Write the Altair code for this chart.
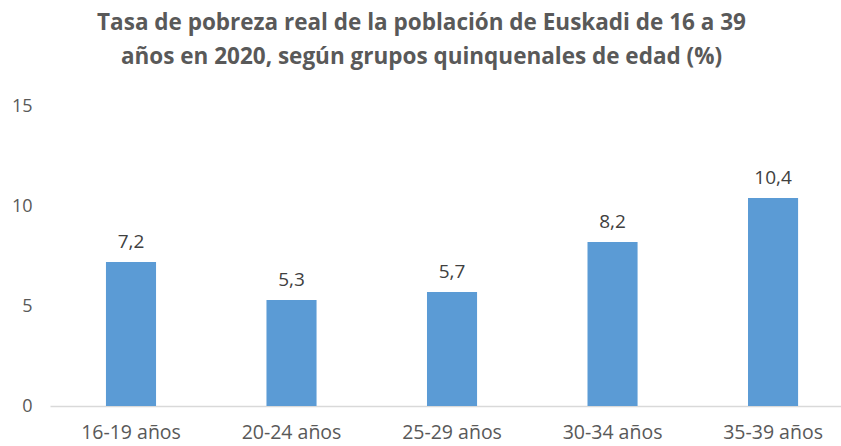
import altair as alt
import pandas as pd

categories = ["16-19 años", "20-24 años", "25-29 años", "30-34 años", "35-39 años"]
values = [7.2, 5.3, 5.7, 8.2, 10.4]
y_ticks = [0, 5, 10, 15]
title_lines = ["Tasa de pobreza real de la población de Euskadi de 16 a 39",
               "años en 2020, según grupos quinquenales de edad (%)"]

df = pd.DataFrame({
    "cat": categories,
    "val": values,
    "lbl": [f"{v:.1f}".replace(".", ",") for v in values],
})

FONT = "Open Sans"
GREY = "#595959"

x = alt.X("cat:N", sort=categories, title=None,
          scale=alt.Scale(paddingInner=0.688, paddingOuter=0.308, align=0.566),
          axis=alt.Axis(labelAngle=0, ticks=False, grid=False, domainColor="#D9D9D9", domainWidth=1.5,
                        labelFont=FONT, labelFontSize=19.5, labelColor=GREY, labelPadding=17))
y = alt.Y("val:Q", title=None,
          scale=alt.Scale(domain=[0, 15], nice=False),
          axis=alt.Axis(values=y_ticks, ticks=False, domain=False, grid=False,
                        labelFont=FONT, labelFontSize=18, labelColor=GREY, labelPadding=18))

base = alt.Chart(df)
bars = base.mark_bar(color="#5B9BD5").encode(x=x, y=y)
text = base.mark_text(baseline="bottom", dy=-10, font=FONT, fontSize=19, color="#404040").encode(
    x=alt.X("cat:N", sort=categories), y="val:Q", text="lbl:N")

chart = (bars + text).properties(
    width=791, height=300,
    background="white",
    autosize=alt.AutoSizeParams(type="none"),
    padding={"left": 50, "top": 106, "right": 0, "bottom": 40},
    title=alt.TitleParams(text=title_lines, anchor="middle", dx=-24, font=FONT, fontSize=22.5,
                          fontWeight="bold", color=GREY, lineHeight=34, offset=6,
                          baseline="bottom"),
).configure_view(strokeWidth=0, stroke="transparent")

chart.save("out.html", embed_options={"renderer": "svg", "actions": False})
